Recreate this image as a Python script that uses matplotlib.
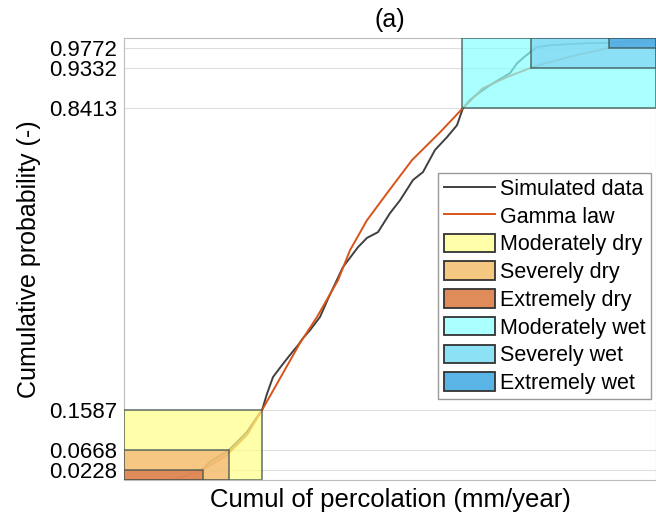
import matplotlib
matplotlib.use("Agg")
from matplotlib import patches, pyplot as plt
import numpy as np

sim_perc = [149, 159, 173, 179, 186, 194, 204, 213, 223, 231, 238, 243, 249, 258,
            266, 274, 279, 286, 296, 304, 309, 319, 334, 343, 354, 366, 376, 389,
            399, 411, 423, 433, 439, 446, 456, 469, 478, 486, 493, 499, 506, 513,
            526, 543, 566, 586, 606, 629]
sim_prob = [0.002, 0.007, 0.018, 0.025, 0.041, 0.052, 0.066, 0.086, 0.109, 0.136,
            0.158, 0.195, 0.233, 0.260, 0.283, 0.305, 0.321, 0.339, 0.369, 0.410,
            0.434, 0.482, 0.527, 0.548, 0.561, 0.604, 0.633, 0.679, 0.697, 0.747,
            0.776, 0.803, 0.842, 0.860, 0.878, 0.898, 0.910, 0.921, 0.943, 0.955,
            0.968, 0.980, 0.984, 0.986, 0.989, 0.989, 0.993, 0.998]

# fitted gamma law
gam_perc = [169, 179, 203, 223, 238, 259, 276, 293, 314, 326, 343, 363, 388, 416,
            439, 459, 483, 508, 526, 553, 583, 606, 631]
gam_prob = [0.002, 0.023, 0.057, 0.102, 0.158, 0.242, 0.310, 0.369, 0.452, 0.520,
            0.588, 0.649, 0.724, 0.787, 0.842, 0.887, 0.912, 0.934, 0.946, 0.962,
            0.977, 0.989, 0.993]

# class thresholds
dry_names = ['Moderately dry', 'Severely dry', 'Extremely dry']
dry_prob = [0.1587, 0.0668, 0.0228]
dry_perc = [238, 205, 179]
wet_names = ['Moderately wet', 'Severely wet', 'Extremely wet']
wet_prob = [0.8413, 0.9332, 0.9772]
wet_perc = [438, 507, 585]

yticks = [0.0228, 0.0668, 0.1587, 0.8413, 0.9332, 0.9772]
ytick_labels = ['0.0228', '0.0668', '0.1587', '0.8413', '0.9332', '0.9772']

xmin, xmax = 100, 632

plt.rcParams['font.family'] = ['Liberation Sans', 'DejaVu Sans']

# box fills (alpha 0.7, stacked on each other)
dry_colors = ['#FFFF86', '#F1B071', '#D87249']
wet_colors = ['#86FFFF', '#7FD4F1', '#45A1E0']
# what they look like in the legend
dry_legend = ['#FFFFAA', '#F5C882', '#E08C5A']
wet_legend = ['#AAFFFF', '#8CE1F5', '#5AB4E6']
edge = '#3c5050'

fig = plt.figure(figsize=(6.56, 5.21), dpi=100)
ax = fig.add_axes([0.189, 0.0787, 0.811, 0.848])

ax.plot(sim_perc, sim_prob, color='#404040', lw=1.4, label='Simulated data', zorder=2)
ax.plot(gam_perc, gam_prob, color='#D95319', lw=1.4, label='Gamma law', zorder=2)

for name, p, x, c in zip(dry_names, dry_prob, dry_perc, dry_colors):
    r = patches.Rectangle((xmin, 0), x - xmin, p, facecolor=c, edgecolor=edge,
                          alpha=0.7, lw=1.3, label=name, zorder=3)
    ax.add_patch(r)
for name, p, x, c in zip(wet_names, wet_prob, wet_perc, wet_colors):
    r = patches.Rectangle((x, p), xmax - x, 1 - p, facecolor=c, edgecolor=edge,
                          alpha=0.7, lw=1.3, label=name, zorder=3)
    ax.add_patch(r)

ax.set_xlim(xmin, xmax)
ax.set_ylim(0, 1)
ax.set_xticks([])
ax.set_yticks(yticks)
ax.set_yticklabels(ytick_labels, fontsize=16)
ax.tick_params(axis='y', length=0, pad=5)
ax.grid(axis='y', color='#dddddd', lw=0.8, zorder=0)
ax.set_axisbelow(True)
for s in ax.spines.values():
    s.set_color('#bbbbbb')

ax.set_xlabel('Cumul of percolation (mm/year)', fontsize=18.5, labelpad=6)
ax.set_ylabel('Cumulative probability (-)', fontsize=18, labelpad=6)
ax.set_title('(a)', fontsize=18, pad=8)

leg = ax.legend(loc='upper right', bbox_to_anchor=(0.99, 0.695), fontsize=15.5,
                handlelength=2.4, handleheight=0.95, labelspacing=0.28,
                handletextpad=0.2, borderpad=0.25, borderaxespad=0,
                fancybox=False, framealpha=1, edgecolor='#999999')
for h, c in zip(leg.legend_handles[2:], dry_legend + wet_legend):
    h.set_alpha(1)
    h.set_facecolor(c)
    h.set_edgecolor('#333333')

fig.savefig('out.png', dpi=100)
